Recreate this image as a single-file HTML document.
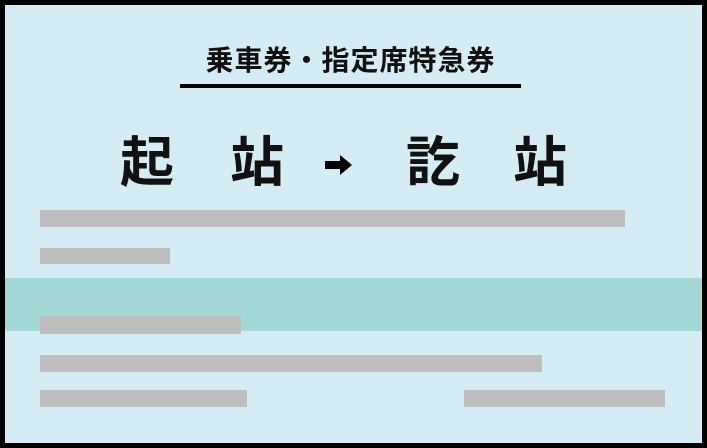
<!DOCTYPE html>
<html><head><meta charset="utf-8"><style>
body{margin:0;width:707px;height:448px;background:#000;position:relative;overflow:hidden;font-family:"Liberation Sans","Noto Sans CJK JP",sans-serif}
.in{position:absolute;left:5px;top:5px;width:697px;height:438px;background:#d5ecf4}
.a{position:absolute}
.g{position:absolute;background:#bebebe}
.t{position:absolute;font-weight:bold;color:#111;white-space:nowrap}
</style></head><body>
<div class="in"></div>
<div class="a" style="left:5px;top:278px;width:697px;height:53px;background:#a4d8d7"></div>
<div class="t" style="left:150px;width:401px;top:43px;font-size:28px;letter-spacing:1px;text-align:center;line-height:36px">乗車券・指定席特急券</div>
<div class="a" style="left:180px;top:84px;width:341px;height:4px;background:#000"></div>
<div class="t" style="left:120px;top:130px;font-size:54px;line-height:66px">起</div>
<div class="t" style="left:230px;top:130px;font-size:54px;line-height:66px">站</div>
<div class="t" style="left:406px;top:130px;font-size:54px;line-height:66px">訖</div>
<div class="t" style="left:513px;top:130px;font-size:54px;line-height:66px">站</div>
<svg class="a" style="left:324px;top:154px" width="30" height="22"><path d="M1 7H16V1L28 11L16 21V15H1Z" fill="#000"/></svg>
<div class="g" style="left:40px;top:210px;width:585px;height:17px"></div>
<div class="g" style="left:40px;top:248px;width:130px;height:16px"></div>
<div class="g" style="left:40px;top:316px;width:201px;height:18px"></div>
<div class="g" style="left:40px;top:355px;width:502px;height:17px"></div>
<div class="g" style="left:40px;top:390px;width:207px;height:17px"></div>
<div class="g" style="left:464px;top:390px;width:201px;height:17px"></div>
</body></html>
